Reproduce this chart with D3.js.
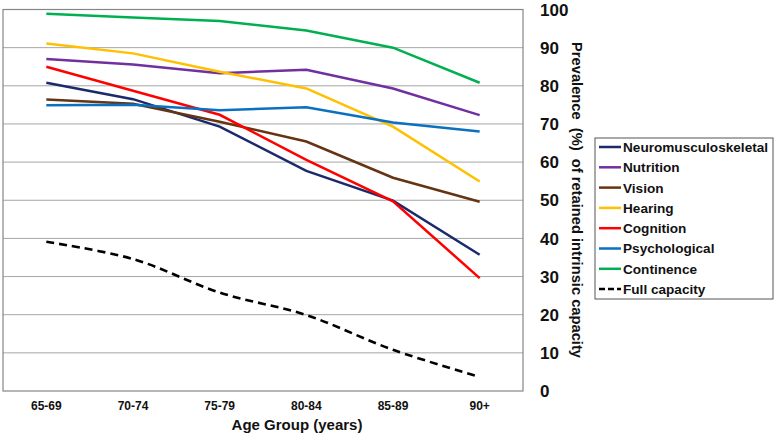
<!DOCTYPE html>
<html>
<head>
<meta charset="utf-8">
<script src="https://cdn.jsdelivr.net/npm/d3@7"></script>
<style>
  html, body { margin: 0; padding: 0; background: #fff; }
  svg { display: block; font-family: Arial, "Liberation Sans", sans-serif; }
</style>
</head>
<body>
<svg id="chart" width="777" height="437"></svg>
<script>
const ageGroups = ["65-69", "70-74", "75-79", "80-84", "85-89", "90+"];
const yTicks = [0, 10, 20, 30, 40, 50, 60, 70, 80, 90, 100];

const neuromusculoskeletal = [80.8, 76.5, 69.3, 57.7, 49.9, 35.7];
const nutrition = [87.0, 85.6, 83.3, 84.2, 79.3, 72.3];
const vision = [76.4, 75.3, 70.6, 65.4, 55.9, 49.6];
const hearing = [91.1, 88.5, 83.7, 79.3, 69.3, 54.9];
const cognition = [85.0, 78.7, 72.4, 60.6, 49.7, 29.6];
const psychological = [74.9, 75.0, 73.6, 74.4, 70.4, 68.0];
const continence = [98.9, 97.9, 97.0, 94.5, 90.0, 80.8];
const fullCapacity = [39.1, 34.6, 25.8, 19.9, 10.8, 3.7];

const series = [
  { name: "Neuromusculoskeletal", values: neuromusculoskeletal, color: "#1b2a6b" },
  { name: "Nutrition", values: nutrition, color: "#7030a0" },
  { name: "Vision", values: vision, color: "#653412" },
  { name: "Hearing", values: hearing, color: "#ffc000" },
  { name: "Cognition", values: cognition, color: "#ff0000" },
  { name: "Psychological", values: psychological, color: "#0a70c0" },
  { name: "Continence", values: continence, color: "#00b050" },
  { name: "Full capacity", values: fullCapacity, color: "#000000", dashed: true },
];

const svg = d3.select("#chart");
const plot = { left: 3, right: 523, top: 9.5, bottom: 391 };

const x = d3.scaleBand().domain(ageGroups).range([plot.left, plot.right]);
const y = d3.scaleLinear().domain([0, 100]).range([plot.bottom, plot.top]);

// gridlines
svg.append("g")
  .selectAll("line")
  .data(yTicks.filter((t) => t > 0 && t < 100))
  .join("line")
  .attr("x1", plot.left)
  .attr("x2", plot.right)
  .attr("y1", (d) => y(d))
  .attr("y2", (d) => y(d))
  .attr("stroke", "#a6a6a6")
  .attr("stroke-width", 1);

// plot border
svg.append("rect")
  .attr("x", plot.left)
  .attr("y", plot.top)
  .attr("width", plot.right - plot.left)
  .attr("height", plot.bottom - plot.top)
  .attr("fill", "none")
  .attr("stroke", "#868686")
  .attr("stroke-width", 1.2);

// lines
const straight = d3.line()
  .x((d, i) => x(ageGroups[i]) + x.bandwidth() / 2)
  .y((d) => y(d));
const smooth = d3.line()
  .x((d, i) => x(ageGroups[i]) + x.bandwidth() / 2)
  .y((d) => y(d))
  .curve(d3.curveCatmullRom.alpha(0.5));

svg.append("g")
  .selectAll("path")
  .data(series)
  .join("path")
  .attr("fill", "none")
  .attr("stroke", (d) => d.color)
  .attr("stroke-width", (d) => (d.dashed ? 2.6 : 2.5))
  .attr("stroke-dasharray", (d) => (d.dashed ? "8,5" : null))
  .attr("d", (d) => (d.dashed ? smooth(d.values) : straight(d.values)));

// y tick labels (right side)
svg.append("g")
  .selectAll("text")
  .data(yTicks)
  .join("text")
  .attr("x", 540)
  .attr("y", (d) => y(d))
  .attr("dy", "0.36em")
  .attr("font-size", 17)
  .attr("font-weight", "bold")
  .attr("fill", "#111")
  .text((d) => d);

// y axis title
svg.append("text")
  .attr("transform", "translate(572,200) rotate(90)")
  .attr("text-anchor", "middle")
  .attr("font-size", 14.7)
  .attr("font-weight", "bold")
  .attr("fill", "#111")
  .attr("xml:space", "preserve")
  .text("Prevalence  (%)  of retained intrinsic capacity");

// x tick labels
svg.append("g")
  .selectAll("text")
  .data(ageGroups)
  .join("text")
  .attr("x", (d) => x(d) + x.bandwidth() / 2)
  .attr("y", 410)
  .attr("text-anchor", "middle")
  .attr("font-size", 12)
  .attr("font-weight", "bold")
  .attr("fill", "#111")
  .text((d) => d);

// x axis title
svg.append("text")
  .attr("x", 297)
  .attr("y", 430)
  .attr("text-anchor", "middle")
  .attr("font-size", 15)
  .attr("font-weight", "bold")
  .attr("fill", "#111")
  .text("Age Group (years)");

// legend
const legend = svg.append("g").attr("transform", "translate(595,138)");
legend.append("rect")
  .attr("width", 178)
  .attr("height", 161)
  .attr("fill", "#fff")
  .attr("stroke", "#555")
  .attr("stroke-width", 1);

const item = legend.selectAll("g.item")
  .data(series)
  .join("g")
  .attr("class", "item")
  .attr("transform", (d, i) => `translate(0,${9 + i * 20.3})`);

item.append("line")
  .attr("x1", 4)
  .attr("x2", 26)
  .attr("stroke", (d) => d.color)
  .attr("stroke-width", 2.5)
  .attr("stroke-dasharray", (d) => (d.dashed ? "6,3" : null));

item.append("text")
  .attr("x", 28)
  .attr("dy", "0.36em")
  .attr("font-size", 13.6)
  .attr("font-weight", "bold")
  .attr("fill", "#111")
  .text((d) => d.name);
</script>
</body>
</html>
